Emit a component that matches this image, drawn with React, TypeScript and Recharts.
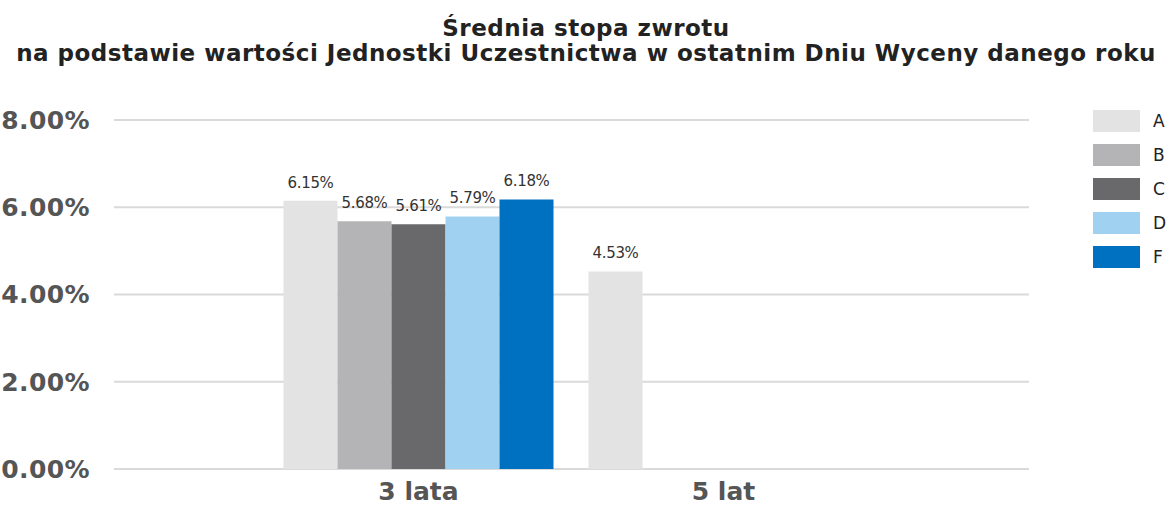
import React from 'react';
import { BarChart, Bar, XAxis, YAxis, CartesianGrid, LabelList } from 'recharts';

const CATEGORIES = ['3 lata', '5 lat'];
const SERIES_NAMES = ['A', 'B', 'C', 'D', 'F'];
const SERIES_A = [6.15, 4.53];
const SERIES_B = [5.68, null];
const SERIES_C = [5.61, null];
const SERIES_D = [5.79, null];
const SERIES_F = [6.18, null];
const Y_TICKS = [0, 2, 4, 6, 8];

const COLORS = ['#e3e3e3', '#b4b4b6', '#69696b', '#a1d1f1', '#0070c0'];
const VALUES = [SERIES_A, SERIES_B, SERIES_C, SERIES_D, SERIES_F];

const DATA = CATEGORIES.map((cat, i) => {
    const row: Record<string, any> = { cat };
    SERIES_NAMES.forEach((name, s) => {
        row[name] = VALUES[s][i];
    });
    return row;
});

const pct = (v: any) => (v == null ? '' : `${Number(v).toFixed(2)}%`);

// legend drawn outside the chart so it doesn't eat into the plot width
function LegendBox() {
    return (
        <div style={{ position: 'absolute', left: 1093, top: 110, display: 'flex', flexDirection: 'column', gap: 12 }}>
            {SERIES_NAMES.map((name, s) => (
                <div key={name} style={{ display: 'flex', alignItems: 'center', height: 22 }}>
                    <div style={{ width: 47, height: 22, background: COLORS[s] }} />
                    <span style={{ marginLeft: 13, fontSize: 17, color: '#222' }}>{name}</span>
                </div>
            ))}
        </div>
    );
}

export default function App() {
    return (
        <div style={{ position: 'absolute', left: 0, top: 0, width: 1172, height: 511, background: '#fff', fontFamily: 'DejaVu Sans', overflow: 'hidden' }}>
            <div
                style={{
                    position: 'absolute',
                    top: 16,
                    left: 0,
                    width: 1172,
                    textAlign: 'center',
                    fontWeight: 'bold',
                    fontSize: 23,
                    lineHeight: '25px',
                    letterSpacing: 0.5,
                    color: '#222',
                }}
            >
                <div>Średnia stopa zwrotu</div>
                <div>na podstawie wartości Jednostki Uczestnictwa w ostatnim Dniu Wyceny danego roku</div>
            </div>
            <BarChart
                width={1172}
                height={511}
                data={DATA}
                margin={{ top: 120, right: 143, left: 0, bottom: 0 }}
                barCategoryGap={17.5}
                barGap={0}
            >
                <CartesianGrid horizontal vertical={false} stroke="#dadada" strokeWidth={2} />
                <XAxis
                    dataKey="cat"
                    axisLine={false}
                    tickLine={false}
                    height={42}
                    tickMargin={7}
                    padding={{ left: 152, right: 153 }}
                    tick={{ fill: '#555', fontSize: 25, fontWeight: 'bold' }}
                />
                <YAxis
                    domain={[0, 8]}
                    ticks={Y_TICKS}
                    width={114}
                    axisLine={false}
                    tickLine={false}
                    tickMargin={18}
                    tickFormatter={pct}
                    tick={{ fill: '#555', fontSize: 25, fontWeight: 'bold', letterSpacing: 0.4 }}
                />
                {SERIES_NAMES.map((name, s) => (
                    <Bar key={name} dataKey={name} name={name} fill={COLORS[s]} isAnimationActive={false}>
                        <LabelList
                            dataKey={name}
                            position="top"
                            offset={13}
                            formatter={pct}
                            style={{ fontSize: 15, fill: '#333', letterSpacing: -0.3 }}
                        />
                    </Bar>
                ))}
            </BarChart>
            <LegendBox />
        </div>
    );
}
